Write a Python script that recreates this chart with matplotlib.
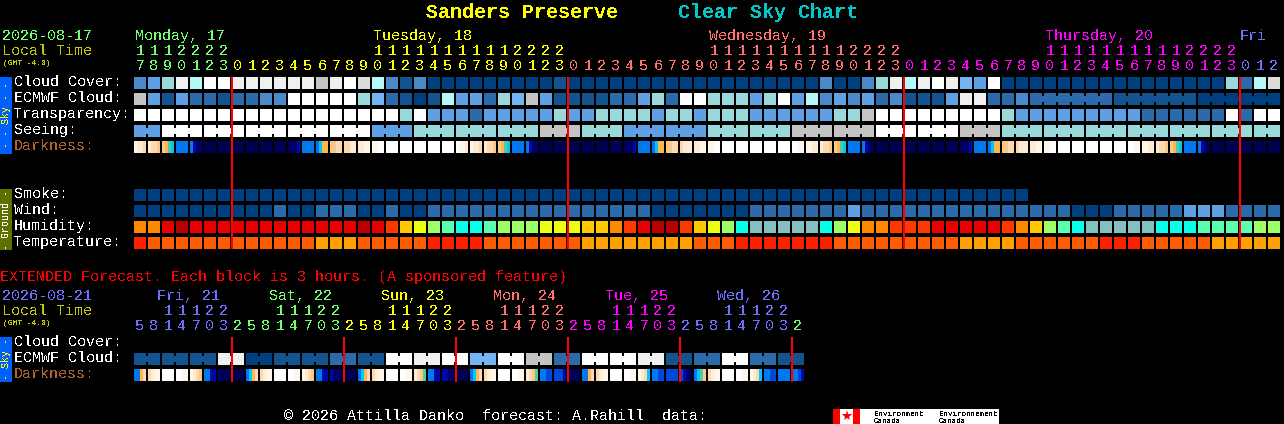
import matplotlib
matplotlib.use('Agg')
import matplotlib.pyplot as plt

plt.rcParams['font.family'] = ['Liberation Mono', 'DejaVu Sans Mono']
plt.rcParams['text.antialiased'] = False

# cloud style colours, index = level in the rows below
cloud_colors = ['#003F7F', '#135490', '#2B6BAB', '#4A8AC8', '#5F9FE3', '#74B4F4',
                '#99D9D9', '#B4F8F8', '#FFFFFF', '#F0F0F0', '#DCDCDC', '#C4C4C4']
humid_colors = ['#85C0C0', '#08FFE8', '#5CFFB0', '#9CFF66', '#ECFF10', '#FFC800',
                '#FF8800', '#FF3800', '#E80000', '#B80000']
temp_colors = ['#FF2000', '#FF5C00', '#FFA000']
dark_colors = {'0': '#FFFFFF', '1': '#FFF6EA', '2': '#FFEBD2', '3': '#FED9AE', '4': '#FBC68A',
               '5': '#FFB44C', '6': '#58C8A0', '7': '#00C8FF', '8': '#0078F0', '9': '#0048DC',
               'A': '#0008A8', 'B': '#000070', 'C': '#000050'}

day_colors = ['#70FF70', '#FFFF00', '#FF7070', '#FF00FF', '#7070FF']

# main forecast, one block per hour
hours = [17, 18, 19, 20, 21, 22, 23,
         0, 1, 2, 3, 4, 5, 6, 7, 8, 9, 10, 11, 12, 13, 14, 15, 16, 17, 18, 19, 20, 21, 22, 23,
         0, 1, 2, 3, 4, 5, 6, 7, 8, 9, 10, 11, 12, 13, 14, 15, 16, 17, 18, 19, 20, 21, 22, 23,
         0, 1, 2, 3, 4, 5, 6, 7, 8, 9, 10, 11, 12, 13, 14, 15, 16, 17, 18, 19, 20, 21, 22, 23,
         0, 1, 2]
hour_days = [0] * 7 + [1] * 24 + [2] * 24 + [3] * 24 + [4] * 3

cloud_cover = [3, 4, 6, 9, 7, 8, 8, 9, 9, 9, 9, 9, 9, 11, 9, 8, 10, 7, 3, 1, 3,
               0, 0, 0, 0, 0, 0, 0, 0, 0, 1,
               0, 0, 0, 0, 0, 0, 0, 0, 0, 0, 0, 0, 0, 0, 0, 0, 0, 0, 3, 0, 0,
               3, 6, 9, 7, 9, 8, 9, 5, 4, 8,
               0, 0, 0, 0, 0, 0, 0, 0, 0, 0, 0, 0, 0, 0, 0, 0, 6, 2, 7, 10]
ecmwf_cloud = [11, 4, 1, 4, 2, 2, 1, 2, 2, 3, 3, 8, 8, 8, 8, 8, 6, 5, 2, 1, 0,
               1, 7, 4, 4, 2, 6, 5, 11, 4, 1,
               1, 1, 1, 2, 2, 4, 6, 2, 8, 8, 6, 6, 6, 4, 6, 8, 4, 7, 3, 4, 3,
               4, 2, 3, 1, 1, 1, 4, 9, 9, 2, 2, 3]
ecmwf_tail = [2, 1, 0]
ecmwf_tail_spans = [6, 6, 6]
transparency = [8, 8, 8, 8, 8, 8, 8, 8, 8, 8, 8, 8, 8, 8, 8, 8, 8, 8, 8, 6, 8,
                4, 4, 4, 2, 4, 4, 4, 4, 4, 6,
                4, 4, 6, 6, 6, 6, 4, 6, 6, 4, 6, 6, 6, 4, 4, 4, 4, 4, 4, 6, 6,
                11, 8, 8, 8, 8, 8, 8, 8, 8, 8, 6,
                4, 4, 4, 4, 4, 4, 4, 4, 4, 2, 2, 2, 2, 2, 2, 8, 2, 8, 8]
seeing = [4, 8, 8, 8, 8, 8, 4, 6, 6, 6, 11, 6, 4, 4, 6, 6, 11, 11, 8, 8, 11, 6, 6, 6, 6, 6, 6, 6]
seeing_spans = [2, 3, 3, 3, 3, 3, 3, 3, 3, 3, 3, 3, 3, 3, 3, 3, 3, 3, 3, 3, 3, 3, 3, 3, 3, 3, 3, 2]
darkness = ['1223', '2334', '4567', '8888', '8ABB', 'CCCC', 'CCCC', 'CCCC', 'CCCC', 'CCCC', 'CCCC',
            'CBBA', '8888', '8755', '4433', '3322', '2211', '1100', '0000', '0000', '0000',
            '0000', '0000', '0112', '1223', '2334', '4567', '8888', '8ABB', 'CCCC', 'CCCC',
            'CCCC', 'CCCC', 'CCCC', 'CCCC', 'CBBA', '8888', '8755', '4433', '3222', '2211', '1100',
            '0000', '0000', '0000', '0000', '0000', '0011', '1122', '2334', '4567', '8888',
            '8ABC', 'CCCC', 'CCCC', 'CCCC', 'CCCC', 'CCCC', 'CCCC', 'CBBA', '8888', '8755',
            '4433', '3222', '2211', '1100', '0000', '0000', '0000', '0000', '0000', '0011',
            '1122', '2334', '4567', '8888', '8ABC', 'CCCC', 'CCCC', 'CCCC', 'CCCC', 'CCCC']
smoke = [0] * 64
wind = [0, 0, 0, 0, 0, 0, 0, 0, 0, 0, 2, 0, 0, 2, 2, 2, 0, 0, 2, 0, 0,
        2, 2, 2, 2, 2, 2, 2, 2, 2, 2, 2, 2, 2, 2, 2, 2, 0, 0, 0, 0, 0, 0, 0,
        2, 2, 2, 2, 2, 2, 2, 4,
        2, 2, 2, 2, 2, 2, 2, 2, 2, 2, 2, 2, 2, 2, 2, 0, 0, 0,
        2, 2, 2, 2, 2, 4, 4, 4, 2, 2, 2, 2]
humidity = [6, 6, 8, 9, 8, 8, 8, 8, 8, 8, 8, 8, 8, 8, 8, 8, 9, 8, 7, 5, 4,
            3, 2, 1, 1, 2, 3, 3, 3, 4, 4, 4, 5, 5, 6, 7, 8, 9, 9, 7, 5, 4, 3, 1,
            0, 0, 0, 0, 0, 1, 3, 4,
            6, 6, 7, 7, 7, 8, 8, 8, 8, 8, 7, 6, 5, 3, 2, 1,
            0, 0, 0, 0, 0, 1, 1, 1, 2, 2, 2, 2, 3, 3]
temperature = [0, 1, 1, 1, 1, 1, 1, 1, 1, 1, 1, 1, 1, 2, 2, 2, 1, 1, 1, 1, 1,
               0, 0, 0, 0, 1, 1, 1, 1, 1, 1, 1, 2, 2, 2, 2, 2, 2, 2, 2, 1, 1, 1,
               0, 0, 0, 0, 0, 0, 0, 1, 1,
               1, 1, 1, 1, 1, 1, 1, 2, 2, 2, 2, 1, 1, 1, 1, 1, 1,
               0, 0, 0, 1, 1, 1, 1, 1, 2, 2, 2, 2, 2]

# extended forecast, one block per 3 hours
ext_hours = [5, 8, 11, 14, 17, 20, 23,
             2, 5, 8, 11, 14, 17, 20, 23,
             2, 5, 8, 11, 14, 17, 20, 23,
             2, 5, 8, 11, 14, 17, 20, 23,
             2, 5, 8, 11, 14, 17, 20, 23,
             2, 5, 8, 11, 14, 17, 20, 23,
             2]
ext_days = [4] * 7 + [0] * 8 + [1] * 8 + [2] * 8 + [3] * 8 + [4] * 8 + [0]
ext_ecmwf = [1, 1, 1, 9, 0, 1, 1, 2, 1, 8, 9, 8, 5, 8, 11, 2, 8, 8, 9, 1, 2, 8, 2, 1]
ext_ecmwf_spans = [2] * 24
ext_darkness = ['8853', '3211', '0000', '0011', '1234', '88AA', 'BCCC', 'CCCC',
                '8753', '3211', '0000', '0011', '1234', '88AA', 'ABBC', 'CCCC',
                '8753', '3211', '0000', '0011', '2346', '88AA', 'AABB', 'BCCC',
                '8753', '3211', '0000', '0011', '2346', '8899', '999A', 'BCCC',
                '8853', '3211', '0000', '0011', '1237', '8899', '9999', '9ABC',
                '8764', '3211', '0000', '0011', '1237', '8899', '8888', '889A']

main_days = [('Monday, 17', 135, 0), ('Tuesday, 18', 373, 1), ('Wednesday, 19', 709, 2),
             ('Thursday, 20', 1045, 3), ('Fri', 1240, 4)]
ext_day_names = [('Fri, 21', 157, 4), ('Sat, 22', 269, 0), ('Sun, 23', 381, 1),
                 ('Mon, 24', 493, 2), ('Tue, 25', 605, 3), ('Wed, 26', 717, 4)]

fig = plt.figure(figsize=(12.84, 4.24), dpi=100, facecolor='black')
ax = fig.add_axes([0, 0, 1, 1])
ax.set_facecolor('black')
ax.set_xlim(0, 1284)
ax.set_ylim(424, 0)
ax.axis('off')


def col_x(i):
    return 134 + 14 * i


def put(x, y, s, color='white', size=10.8, **kw):
    ax.text(x, y, s, color=color, fontsize=size, va='baseline', **kw)


def block(x, y, w, h, color):
    ax.bar(x, h, width=w, bottom=y, align='edge', color=color, linewidth=0, antialiased=False)


def draw_row(y, values, colors, first=0):
    for i, v in enumerate(values):
        block(col_x(first + i), y, 12, 12, colors[v])


def draw_joined(y, values, spans, colors, first=0):
    # blocks in a group are linked by a narrow bridge
    i = first
    for v, n in zip(values, spans):
        for k in range(n):
            block(col_x(i + k), y, 12, 12, colors[v])
            if k < n - 1:
                block(col_x(i + k) + 12, y + 3, 2, 6, colors[v])
        i += n


def draw_dark(y, stops):
    for i, s in enumerate(stops):
        for k, c in enumerate(s):
            block(col_x(i) + 3 * k, y, 3, 12, dark_colors[c])


def draw_hours(values, days, y_tens, y_ones):
    for i, (h, d) in enumerate(zip(values, days)):
        c = day_colors[d]
        if h >= 10:
            put(col_x(i) + 6, y_tens, str(h // 10), c, ha='center')
        put(col_x(i) + 6, y_ones, str(h % 10), c, ha='center')


# title
put(426, 18, 'Sanders Preserve', '#FFFF00', size=14.4, fontweight='bold')
put(678, 18, 'Clear Sky Chart', '#00C8C8', size=14.4, fontweight='bold')

# main header
put(2, 40, '2026-08-17', day_colors[0])
put(2, 55, 'Local Time', '#C8C800')
put(3, 65, '(GMT -4.0)', '#C8C800', size=5.7)
for name, x, d in main_days:
    put(x, 40, name, day_colors[d])
draw_hours(hours, hour_days, 55, 70)

# row labels
for label, y, c in [('Cloud Cover:', 86, 'white'), ('ECMWF Cloud:', 102, 'white'),
                    ('Transparency:', 118, 'white'), ('Seeing:', 134, 'white'),
                    ('Darkness:', 150, '#B0622F'), ('Smoke:', 198, 'white'),
                    ('Wind:', 214, 'white'), ('Humidity:', 230, 'white'),
                    ('Temperature:', 246, 'white')]:
    put(14, y, label, c)

# side tabs
block(0, 77, 12, 77, '#0060FF')
ax.text(6, 115.5, '- - Sky - -', color='#FFFF00', fontsize=7.2, rotation=90, ha='center', va='center')
block(0, 189, 12, 61, '#5F7000')
ax.text(6, 219.5, '- Ground -', color='white', fontsize=7.2, rotation=90, ha='center', va='center')
block(0, 337, 12, 45, '#0060FF')
ax.text(6, 359.5, '- Sky -', color='#FFFF00', fontsize=7.2, rotation=90, ha='center', va='center')

# sky rows
draw_row(77, cloud_cover, cloud_colors)
draw_row(93, ecmwf_cloud, cloud_colors)
draw_joined(93, ecmwf_tail, ecmwf_tail_spans, cloud_colors, first=len(ecmwf_cloud))
draw_row(109, transparency, cloud_colors)
draw_joined(125, seeing, seeing_spans, cloud_colors)
draw_dark(141, darkness)

# ground rows
draw_row(189, smoke, cloud_colors)
draw_row(205, wind, cloud_colors)
draw_row(221, humidity, humid_colors)
draw_row(237, temperature, temp_colors)

# midnight lines
for i in [7, 31, 55, 79]:
    block(col_x(i) - 1, 77, 2, 172, '#FF0000')

# extended forecast
put(0, 281, 'EXTENDED Forecast. Each block is 3 hours. (A sponsored feature)', '#FF0000')
put(2, 300, '2026-08-21', day_colors[4])
put(2, 315, 'Local Time', '#C8C800')
put(3, 325, '(GMT -4.0)', '#C8C800', size=5.7)
for name, x, d in ext_day_names:
    put(x, 300, name, day_colors[d])
draw_hours(ext_hours, ext_days, 315, 330)
put(14, 346, 'Cloud Cover:')
put(14, 362, 'ECMWF Cloud:')
put(14, 378, 'Darkness:', '#B0622F')
draw_joined(353, ext_ecmwf, ext_ecmwf_spans, cloud_colors)
draw_dark(369, ext_darkness)
for i in [7, 15, 23, 31, 39, 47]:
    block(col_x(i) - 1, 337, 2, 45, '#FF0000')

# footer
put(284, 420, '\u00a9 2026 Attilla Danko  forecast: A.Rahill  data:')
block(833, 409, 166, 15, 'white')
block(833, 409, 7, 15, '#FF0000')
block(853, 409, 7, 15, '#FF0000')
ax.plot([846.5], [416], marker='*', color='#FF0000', markersize=8, markeredgewidth=0)
for x, word in [(874, 'Environment'), (939, 'Environnement')]:
    put(x, 416, word, 'black', size=5.4)
    put(x, 423, 'Canada', 'black', size=5.4)

fig.savefig('out.png', dpi=100, facecolor='black')
